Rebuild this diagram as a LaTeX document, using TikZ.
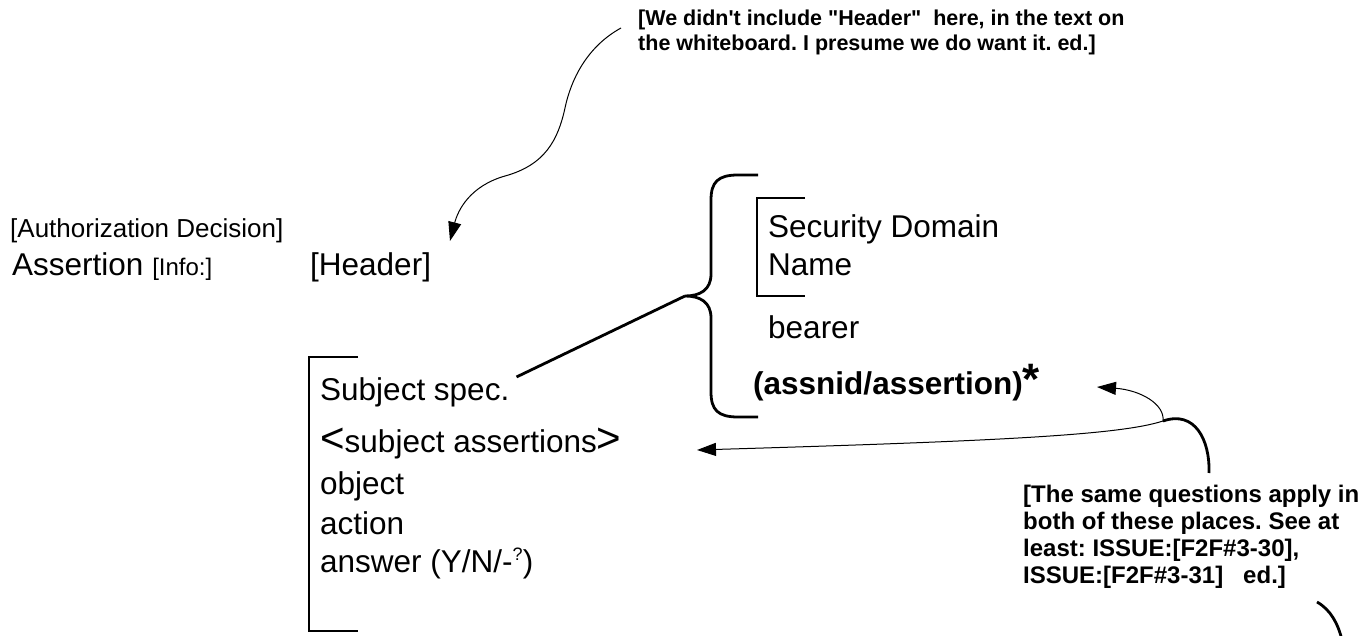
\documentclass[tikz,border=0pt]{standalone}
\usepackage{fontspec}
\setmainfont{Liberation Sans}
\usetikzlibrary{arrows.meta}
\newcommand{\fsz}[1]{\fontsize{#1}{#1}\selectfont}
\frenchspacing

\begin{document}
\begin{tikzpicture}[x=1pt, y=-1pt,
  txt/.style={inner sep=0pt, anchor=base west, font=\fsz{31.5}},
  lbl/.style={txt, font=\fsz{26}},
  note/.style={txt, font=\bfseries\fsz{21.5}},
  bnote/.style={txt, font=\bfseries\fsz{24}},
  heavy/.style={line width=2.8pt},
  thin/.style={line width=1pt},
  tip/.style={-{Triangle[length=19pt, width=13pt]}}]
\useasboundingbox (0,0) rectangle (1372,636);

\node[note] (n1) at (638,26) {[We didn\textquotesingle t include \textquotedbl Header\textquotedbl\ \ here, in the text on};
\node[note] (n2) at (638,51) {the whiteboard. I presume we do want it. ed.]};

\node[lbl] (auth) at (10,237) {[Authorization Decision]};
\node[txt] (asrt) at (12,275) {Assertion {\fsz{24}[Info:]}};
\node[txt] (hdr)  at (310,275) {[Header]};

\node[txt] (sec)  at (768,237) {Security Domain};
\node[txt] (name) at (768,275) {Name};
\node[txt] (brr)  at (768,338) {bearer};
\node[txt, font=\bfseries\fsz{31.5}] (assn) at (753,394) {(assnid/assertion){\fsz{44}*}};

\node[txt] (sub)  at (320,400) {Subject spec.};
\node[txt] (sas)  at (320,452) {{\fsz{42}<}subject assertions{\fsz{42}>}};
\node[txt] (obj)  at (320,494) {object};
\node[txt] (act)  at (320,534) {action};
\node[txt] (ans)  at (320,572) {answer (Y/N/-\raisebox{12pt}{\fsz{18}?})};

\node[bnote] (q1) at (1023,502) {[The same questions apply in};
\node[bnote] (q2) at (1023,529) {both of these places. See at};
\node[bnote] (q3) at (1023,556) {least: ISSUE:[F2F\#3-30],};
\node[bnote] (q4) at (1023,583) {ISSUE:[F2F\#3-31]\hspace{20pt}ed.]};

\coordinate (btip) at (685,296);
\coordinate (c1) at (621,28);
\coordinate (a1) at (450,241);
\coordinate (jn) at (1163,421);
\coordinate (a2) at (697,450);
\coordinate (a3) at (1097,387);
\coordinate (c2) at (1209,473);
\coordinate (c3) at (1317,602);
\coordinate (c4) at (1342,640);

\draw[heavy] (758,175) -- (738,175) .. controls (718,175) and (711,182) .. (711,200)
  -- (711,274) .. controls (711,290) and (700,296) .. (btip)
  .. controls (700,296) and (711,302) .. (711,318) -- (711,392)
  .. controls (711,410) and (718,417) .. (738,417) -- (758,417);
\draw[heavy] (805,198) -- (757,198) -- (757,296) -- (805,296);
\draw[heavy] (358,357) -- (309,357) -- (309,631) -- (358,631);
\draw[heavy] ([xshift=7pt]sub.north east) -- (btip);

\draw[thin, tip] (c1) .. controls (590,45) and (572,75) .. (565,108)
  .. controls (558,140) and (545,165) .. (505,176)
  .. controls (470,186) and (458,210) .. (a1);
\draw[thin, tip] (jn) .. controls (1120,435) and (1000,441) .. (a2);
\draw[thin, tip] (jn) .. controls (1165,404) and (1140,390) .. (a3);
\draw[heavy] (jn) .. controls (1195,410) and (1210,440) .. (c2);
\draw[heavy] (c3) .. controls (1331,610) and (1338,624) .. (c4);
\end{tikzpicture}
\end{document}
